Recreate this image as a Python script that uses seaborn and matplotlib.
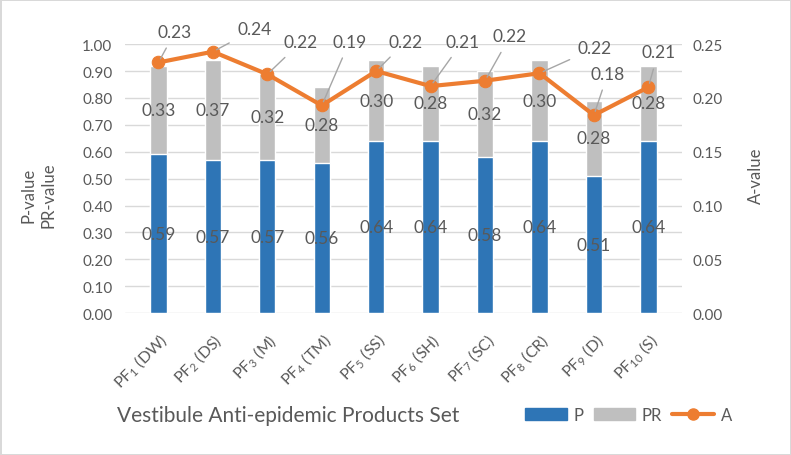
import numpy as np
import pandas as pd
import seaborn as sns
import matplotlib.pyplot as plt
from matplotlib.patches import Patch
from matplotlib.lines import Line2D

sns.set_style('white')
plt.rcParams['font.family'] = ['Lato', 'DejaVu Sans']
plt.rcParams['mathtext.default'] = 'regular'

# data
products = ['PF$_{1}$ (DW)', 'PF$_{2}$ (DS)', 'PF$_{3}$ (M)', 'PF$_{4}$ (TM)', 'PF$_{5}$ (SS)',
            'PF$_{6}$ (SH)', 'PF$_{7}$ (SC)', 'PF$_{8}$ (CR)', 'PF$_{9}$ (D)', 'PF$_{10}$ (S)']
p_vals = [0.59, 0.57, 0.57, 0.56, 0.64, 0.64, 0.58, 0.64, 0.51, 0.64]
pr_vals = [0.33, 0.37, 0.32, 0.28, 0.30, 0.28, 0.32, 0.30, 0.28, 0.28]
a_vals = [0.233, 0.243, 0.222, 0.193, 0.225, 0.211, 0.216, 0.223, 0.184, 0.210]
a_text = ['0.23', '0.24', '0.22', '0.19', '0.22', '0.21', '0.22', '0.22', '0.18', '0.21']

# label offsets (points) for the A labels
a_offsets = [(12, 22), (30, 16), (24, 23), (20, 46), (21, 21), (23, 32), (18, 32), (40, 18), (10, 30), (7, 25)]

blue = '#2E75B6'
gray = '#BFBFBF'
orange = '#ED7D31'
txt = '#595959'

df = pd.DataFrame({'product': products, 'P': p_vals, 'PR': pr_vals, 'A': a_vals})
df['total'] = df['P'] + df['PR']

fig = plt.figure(figsize=(7.91, 4.56), dpi=100, edgecolor='#D9D9D9', linewidth=2)
ax = fig.add_axes([0.158, 0.311, 0.704, 0.59])

sns.barplot(data=df, x='product', y='total', color=gray, width=0.3, saturation=1, ax=ax)
sns.barplot(data=df, x='product', y='P', color=blue, width=0.3, saturation=1, ax=ax)

ax.set_ylim(0, 1.0)
ax.set_yticks(np.arange(0, 1.01, 0.1))
ax.set_yticklabels([f'{v:.2f}' for v in np.arange(0, 1.01, 0.1)])
ax.yaxis.grid(True, color='#D9D9D9', linewidth=1)
ax.set_axisbelow(True)
ax.set_xlabel('')
ax.set_ylabel('')
ax.tick_params(axis='y', length=0, pad=9, labelsize=11, labelcolor=txt)
ax.tick_params(axis='x', length=0, pad=12, labelsize=11.5, labelcolor=txt)
for lab in ax.get_xticklabels():
    lab.set_rotation(45)
    lab.set_ha('right')
    lab.set_rotation_mode('anchor')
for s in ax.spines.values():
    s.set_visible(False)

# bar value labels, centred in each segment
for i, (p, pr) in enumerate(zip(p_vals, pr_vals)):
    ax.text(i, p / 2, f'{p:.2f}', ha='center', va='center', fontsize=12.5, color=txt)
    ax.text(i, p + pr / 2, f'{pr:.2f}', ha='center', va='center', fontsize=12.5, color=txt)

ax2 = ax.twinx()
sns.lineplot(x=np.arange(len(a_vals)), y=a_vals, ax=ax2, color=orange, linewidth=3,
             marker='o', markersize=9, markeredgecolor=orange)
ax2.set_ylim(0, 0.25)
ax2.set_yticks(np.arange(0, 0.251, 0.05))
ax2.set_yticklabels([f'{v:.2f}' for v in np.arange(0, 0.251, 0.05)])
ax2.tick_params(axis='y', length=0, pad=8, labelsize=11, labelcolor=txt)
ax2.set_ylabel('')
for s in ax2.spines.values():
    s.set_visible(False)
ax2.set_xlim(ax.get_xlim())

for i, (a, t, off) in enumerate(zip(a_vals, a_text, a_offsets)):
    ax2.annotate(t, xy=(i, a), xytext=off, textcoords='offset points',
                 ha='center', va='center', fontsize=12.5, color=txt, annotation_clip=False,
                 arrowprops=dict(arrowstyle='-', color='#A6A6A6', lw=1, shrinkA=4, shrinkB=3))

fig.text(0.049, 0.572, 'P-value\nPR-value', rotation=90, ha='center', va='center',
         multialignment='center', fontsize=12, color=txt, linespacing=1.3)
fig.text(0.956, 0.614, 'A-value', rotation=90, ha='center', va='center', fontsize=12, color=txt)
fig.text(0.148, 0.088, 'Vestibule Anti-epidemic Products Set', ha='left', va='center',
         fontsize=15, color=txt)

handles = [Patch(color=blue, label='P'), Patch(color=gray, label='PR'),
           Line2D([0], [0], color=orange, lw=3, marker='o', markersize=8, label='A')]
leg = fig.legend(handles=handles, loc='center left', bbox_to_anchor=(0.645, 0.088), ncol=3,
                 frameon=False, fontsize=12, handlelength=2.5, handleheight=0.75,
                 columnspacing=0.6, handletextpad=0.4, labelcolor=txt)

fig.savefig('out.png', dpi=100)
